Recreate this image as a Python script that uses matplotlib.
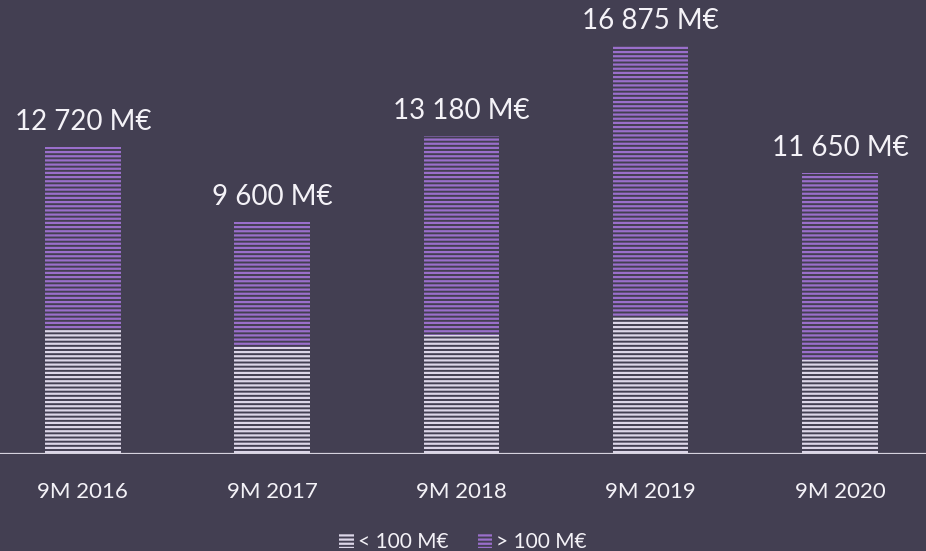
import numpy as np
import matplotlib.pyplot as plt
from matplotlib.patches import Patch

years = ['9M 2016', '9M 2017', '9M 2018', '9M 2019', '9M 2020']
totals = [12720, 9600, 13180, 16875, 11650]
small = [5170, 4420, 4920, 5670, 3880]   # < 100 M€
large = [t - s for t, s in zip(totals, small)]  # > 100 M€
total_labels = ['12 720 M€', '9 600 M€', '13 180 M€', '16 875 M€', '11 650 M€']

bg = '#433f52'
white_c = '#dcd6e8'
purple_c = '#9a6fcb'
txt_c = '#f4f2f7'

plt.rcParams['font.family'] = ['Lato', 'DejaVu Sans']
plt.rcParams['hatch.linewidth'] = 1.6

fig = plt.figure(figsize=(9.26, 5.51), dpi=100, facecolor=bg)
ax = fig.add_axes([0, 0.176, 1, 0.824])
ax.set_facecolor(bg)

x = np.arange(len(years))
w = 0.40
ax.bar(x, small, w, facecolor='none', edgecolor=white_c, linewidth=0, hatch='----')
ax.bar(x, large, w, bottom=small, facecolor='none', edgecolor=purple_c, linewidth=0, hatch='----')

for xi, t, lab in zip(x, totals, total_labels):
    ax.text(xi, t + 500, lab, ha='center', va='bottom', color=txt_c, fontsize=20)

ax.set_xlim(-0.438, 4.455)
ax.set_ylim(0, 18800)
ax.axhline(0, color='#d6d2de', lw=1.6)
for s in ax.spines.values():
    s.set_visible(False)
ax.set_yticks([])
ax.set_xticks(x)
ax.set_xticklabels(years, color=txt_c, fontsize=16)
ax.tick_params(axis='x', length=0, pad=20)

handles = [Patch(facecolor='none', edgecolor=white_c, linewidth=0, hatch='----', label='< 100 M€'),
           Patch(facecolor='none', edgecolor=purple_c, linewidth=0, hatch='----', label='> 100 M€')]
leg = fig.legend(handles=handles, loc='center', bbox_to_anchor=(0.5, 0.016), ncol=2, frameon=False,
                 fontsize=15, labelcolor=txt_c, handlelength=0.7, handleheight=0.7,
                 handletextpad=0.2, columnspacing=1.4)

fig.savefig('out.png', dpi=100, facecolor=bg)
